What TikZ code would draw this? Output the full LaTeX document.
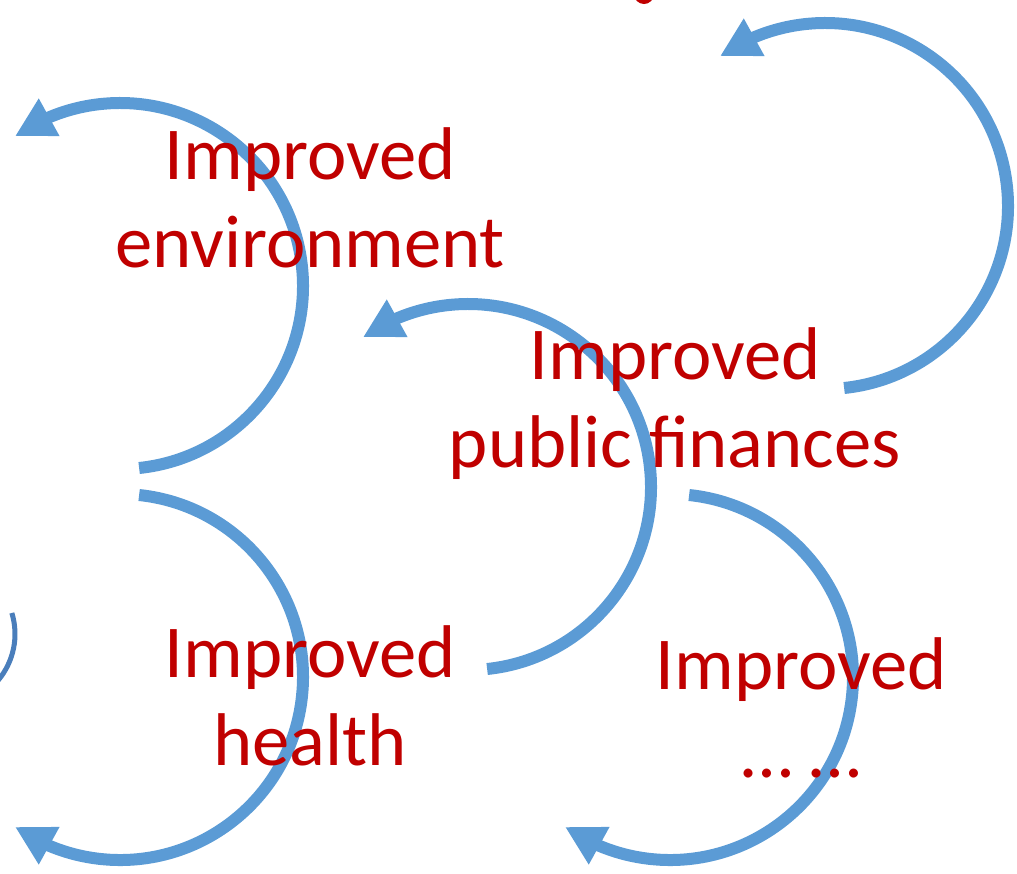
\documentclass[tikz,border=0pt]{standalone}
\usepackage{fontspec}
\setmainfont{Carlito}
\usepackage{tikz}
\usetikzlibrary{arrows.meta,bending}
\definecolor{loopblue}{RGB}{91,155,213}
\definecolor{edgeblue}{RGB}{74,126,187}
\definecolor{gainred}{RGB}{192,0,0}
\tikzset{
  cyc/.style={-{Triangle[length=7.8mm, width=8mm]}, line width=2.4mm, draw=loopblue},
  gain/.style={font=\fontsize{42.5}{50.5}\selectfont, text=gainred, align=center, inner sep=0pt, anchor=north},
}
\begin{document}
\begin{tikzpicture}[x=0.02cm,y=0.02cm]
  \useasboundingbox (0,0) rectangle (1017,-873);
  \clip (0,0) rectangle (1017,-873);
  % loop centres
  \coordinate (cEnv) at (120,-286);
  \coordinate (cFin) at (468,-487);
  \coordinate (cTop) at (825,-206);
  \coordinate (cHea) at (120,-677);
  \coordinate (cMore) at (670,-677);
  \foreach \c in {cEnv,cFin,cTop}
    \draw[cyc] ([shift={(-84:183)}]\c) arc[start angle=-84, end angle=125, radius=183];
  \foreach \c in {cHea,cMore}
    \draw[cyc] ([shift={(84:183)}]\c) arc[start angle=84, end angle=-125, radius=183];
  % cut-off bits at the edges
  \draw[edgeblue, line width=1mm] ([shift={(17:72)}]-57,-634) arc[start angle=17, end angle=-40, radius=72];
  \fill[gainred] (644,6) circle[radius=10];
  \node[gain] (env) at (310,-127) {Improved\\environment};
  \node[gain] (fin) at (675,-327) {Improved\\public finances};
  \node[gain] (hea) at (310,-625) {Improved\\health};
  \node[gain] (more) at (801,-637) {Improved\\… …};
\end{tikzpicture}
\end{document}
